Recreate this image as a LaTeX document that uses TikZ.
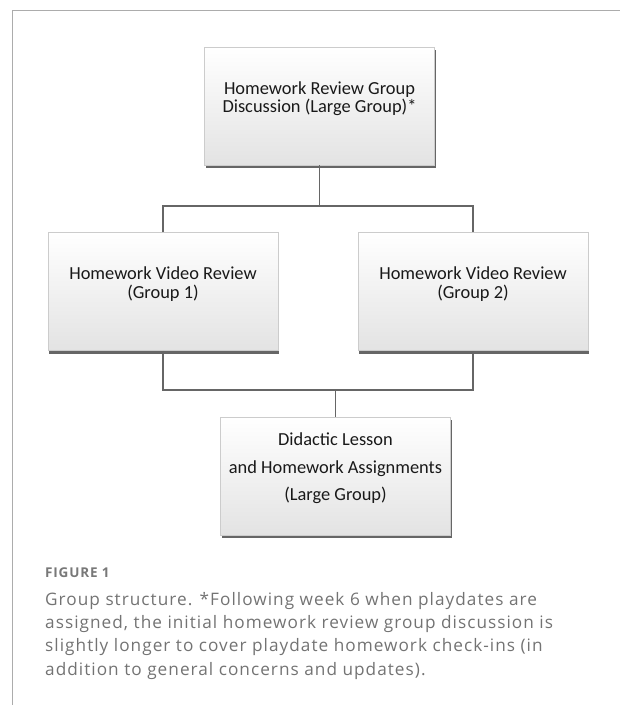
\documentclass[tikz,border=0pt]{standalone}
\usepackage{fontspec}
\setmainfont{Carlito}
\newfontfamily\capfont[LetterSpace=6]{Open Sans}
\usetikzlibrary{shadows}

\begin{document}
\begin{tikzpicture}[x=1pt, y=-1pt,
    box/.style={rectangle, draw=gray!40, line width=0.6pt, minimum width=230pt, minimum height=118pt,
      align=center, text depth=17.5pt, top color=white, middle color=white, bottom color=gray!22,
      drop shadow={shadow xshift=1.2pt, shadow yshift=-3.2pt, fill=black, opacity=0.6},
      font=\fontsize{18.4}{18.5}\selectfont, text=black!90},
    link/.style={draw=black!60, line width=1.2pt},
    frame/.style={draw=gray!65, line width=1.1pt}
  ]
  \useasboundingbox (0,0) rectangle (620,705);
  \draw[frame] (12.5,705) -- (12.5,10.5) -- (620,10.5);

  \node[box, font=\fontsize{18.4}{17.5}\selectfont] (hwgroup) at (319.5,106) {Homework Review Group\\Discussion (Large Group)*};
  \node[box] (vid1) at (163,291.5) {Homework Video Review\\(Group 1)};
  \node[box] (vid2) at (473,291.5) {Homework Video Review\\(Group 2)};
  \node[box, text depth=18pt, font=\fontsize{18.4}{27.5}\selectfont] (lesson) at (335.5,476) {Didactic Lesson\\and Homework Assignments\\(Large Group)};

  \coordinate (split) at (hwgroup.south |- 0,206);
  \coordinate (merge) at (lesson.north |- 0,390);
  \draw[link] (hwgroup.south) -- (split);
  \draw[link] (vid1.north) |- (split) -| (vid2.north);
  \draw[link] (vid1.south) |- (merge) -| (vid2.south);
  \draw[link] (merge) -- (lesson.north);

  \node[anchor=base west, inner sep=0pt, font=\capfont\bfseries\fontsize{13.5}{14}\selectfont, text=black!53] (figlabel) at (45,577) {FIGURE 1};
  \node[anchor=base west, inner sep=0pt, align=left, font=\capfont\fontsize{17.2}{23.3}\selectfont, text=black!55] (caption) at (45,675)
    {Group structure. *Following week 6 when playdates are\\
     assigned, the initial homework review group discussion is\\
     slightly longer to cover playdate homework check-ins (in\\
     addition to general concerns and updates).};
\end{tikzpicture}
\end{document}
